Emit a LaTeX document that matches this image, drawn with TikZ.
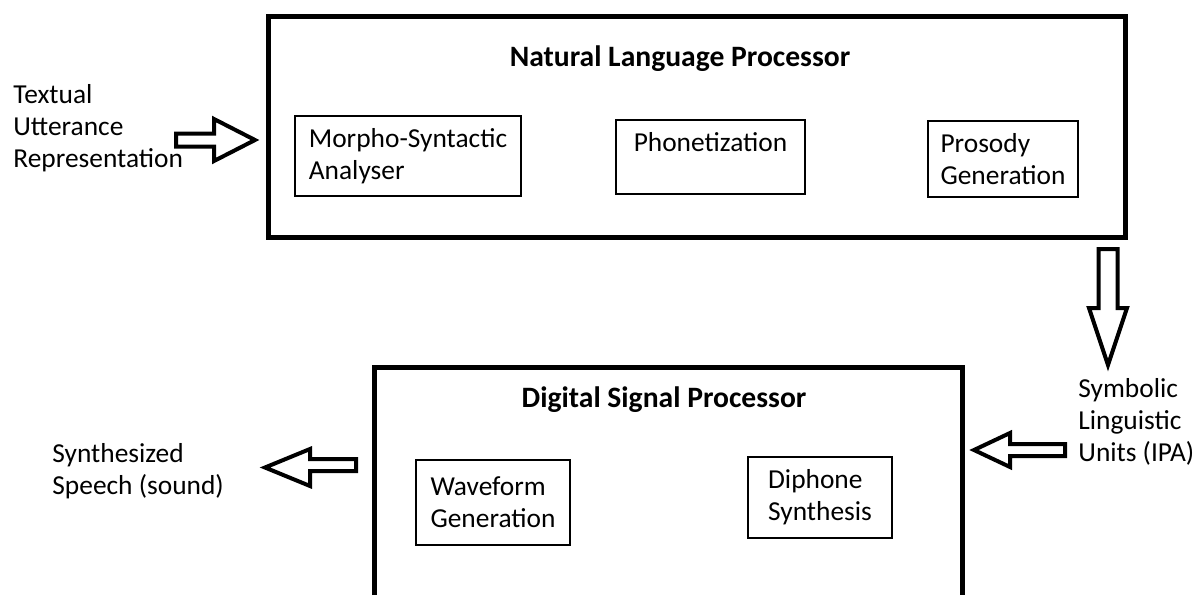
\documentclass[tikz,border=0pt]{standalone}
\usepackage{fontspec}
\setmainfont{Carlito}
\tikzset{
  stage/.style={draw, line width=0.7pt, align=left, inner sep=0pt, font=\fontsize{13.7}{16}\selectfont},
  caption/.style={align=left, anchor=west, inner sep=0pt, font=\fontsize{13.7}{16}\selectfont},
  heading/.style={inner sep=0pt, font=\fontsize{14.8}{17}\selectfont\bfseries},
  fat/.style={line width=2.5pt, line join=miter},
  hollow/.style={draw, line width=2pt, line join=miter, fill=white}
}
\begin{document}
\begin{tikzpicture}[x=0.5pt, y=-0.5pt]
\useasboundingbox (0,0) rectangle (1200,595);
% natural language processor
\node[draw, fat, minimum width=428.5pt, minimum height=110.5pt] (nlp) at (696.5,126.5) {};
\node[heading] (nlptitle) at (680,59) {Natural Language Processor};
\node[stage, minimum width=113pt, minimum height=40pt] (morph) at (408,156) {Morpho-Syntactic\\Analyser};
\node[stage, minimum width=94.5pt, minimum height=37pt] (phon) at (710.5,157) {Phonetization\\[-6pt]\strut};
\node[stage, minimum width=75pt, minimum height=38pt] (pros) at (1003,159) {Prosody\\Generation};

% digital signal processor, runs off the bottom
\draw[fat] (374.5,595) -- (374.5,367) -- (962.5,367) -- (962.5,595);
\node[heading] (dsptitle) at (664,400) {Digital Signal Processor};
\node[stage, minimum width=77pt, minimum height=42.5pt] (wave) at (493,502.5) {Waveform\\Generation};
\node[stage, minimum width=72pt, minimum height=40.5pt] (diph) at (820,497.5) {Diphone\\Synthesis};

% outside texts
\node[caption] (textin) at (13,128) {Textual\\Utterance\\Representation};
\node[caption] (units) at (1078,422) {Symbolic\\Linguistic\\Units (IPA)};
\node[caption] (speech) at (52,471) {Synthesized\\Speech (sound)};

% block arrows
\draw[hollow] (176,133.5) -- (214,133.5) -- (214,119) -- (255,140) -- (214,161) -- (214,146.5) -- (176,146.5) -- cycle;
\draw[hollow] (1098.5,249) -- (1117.5,249) -- (1117.5,308) -- (1127,308) -- (1108,365) -- (1089,308) -- (1098.5,308) -- cycle;
\draw[hollow] (1065,444) -- (1010,444) -- (1010,433) -- (974,450) -- (1010,467) -- (1010,456) -- (1065,456) -- cycle;
\draw[hollow] (356,459) -- (310,459) -- (310,449) -- (265,467.5) -- (310,486) -- (310,471) -- (356,471) -- cycle;
\end{tikzpicture}
\end{document}
